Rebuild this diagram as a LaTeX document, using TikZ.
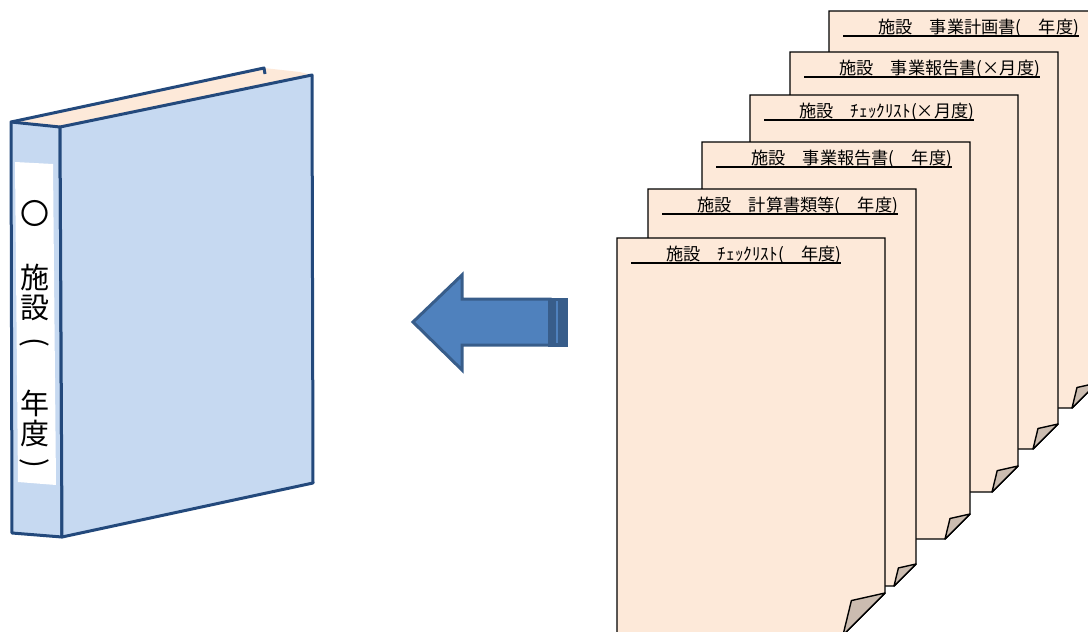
\documentclass[tikz,border=0pt]{standalone}
\usepackage{fontspec}
\newfontfamily\jp{Noto Sans CJK JP}
\definecolor{binderfill}{HTML}{C6D9F1}
\definecolor{binderline}{HTML}{23497C}
\definecolor{pagefill}{HTML}{FDE9D9}
\definecolor{curlfill}{HTML}{CBBCB0}
\definecolor{arrowfill}{HTML}{4F81BD}
\definecolor{arrowdark}{HTML}{385D8A}
\begin{document}
\begin{tikzpicture}[x=1pt,y=-1pt,
  binder/.style={draw=binderline, line width=3pt, fill=binderfill, line join=round},
  sheet/.style={draw=black, line width=1.4pt, fill=pagefill, line join=miter},
  curl/.style={draw=black, line width=1.4pt, fill=curlfill, line join=round},
  head/.style={font=\jp\fontsize{17.2}{17.2}\selectfont, inner sep=0pt, anchor=base west},
  spinechar/.style={font=\jp\fontsize{29}{29}\selectfont, inner sep=0pt},
  bigarrow/.style={draw=arrowdark, line width=3pt, fill=arrowfill, line join=miter}]
\useasboundingbox (0,0) rectangle (1088,632);

% ---- binder ----
\fill[pagefill] (11,122) -- (264,68) -- (300,72) -- (312,75) -- (60,127) -- cycle;
\draw[binder, fill=none] (11,122) -- (264,68) -- (265,74);
\draw[binder] (11,122) -- (60,127) -- (62,537) -- (12,533) -- cycle;
\draw[binder] (60,127) -- (312,75) -- (313,483) -- (62,537) -- cycle;
\fill[white] (15,162) -- (53,164) -- (56,485) -- (18,482) -- cycle;
\node[spinechar] (s1) at (35,213) {〇};
\node[spinechar] (s2) at (35,277) {施};
\node[spinechar] (s3) at (35,308) {設};
\node[spinechar, rotate=-90] (s4) at (35,342) {(};
\node[spinechar] (s5) at (35,403) {年};
\node[spinechar] (s6) at (35,434) {度};
\node[spinechar, rotate=-90] (s7) at (35,463) {)};

% ---- arrow ----
\draw[bigarrow] (413,322) -- (462,275) -- (462,299) -- (550,299) -- (550,345)
  -- (462,345) -- (462,370) -- cycle;
\draw[draw=arrowdark, fill=arrowdark, line width=3pt] (549,299) rectangle (566,345);
\draw[arrowfill, line width=1.5pt] (557,301) -- (557,343);

% ---- stacked documents (back to front) ----
\foreach \n/\L/\T/\d/\txt in {
  1/829/11/25/{施設　事業計画書(　年度)},
  2/790/52/25/{施設　事業報告書(×月度)},
  3/750/95/26/{施設　ﾁｪｯｸﾘｽﾄ(×月度)},
  4/702/142/25/{施設　事業報告書(　年度)},
  5/648/189/22/{施設　計算書類等(　年度)},
  6/617/238/42/{施設　ﾁｪｯｸﾘｽﾄ(　年度)}} {
  \draw[sheet] (\L,\T) -- ({\L+268},\T) -- ({\L+268},{\T+397-\d})
    -- ({\L+268-\d},{\T+397}) -- (\L,{\T+397}) -- cycle;
  \draw[curl] ({\L+268},{\T+397-\d}) -- ({\L+268-0.8*\d},{\T+397-0.82*\d})
    -- ({\L+268-\d},{\T+397}) -- cycle;
  \node[head] (h\n) at ({\L+49},{\T+22}) {\txt};
  \coordinate (u\n) at ({\L+14},{\T+25});
  \draw[line width=1.2pt] (u\n) -- (u\n -| h\n.east);
}
\end{tikzpicture}
\end{document}
